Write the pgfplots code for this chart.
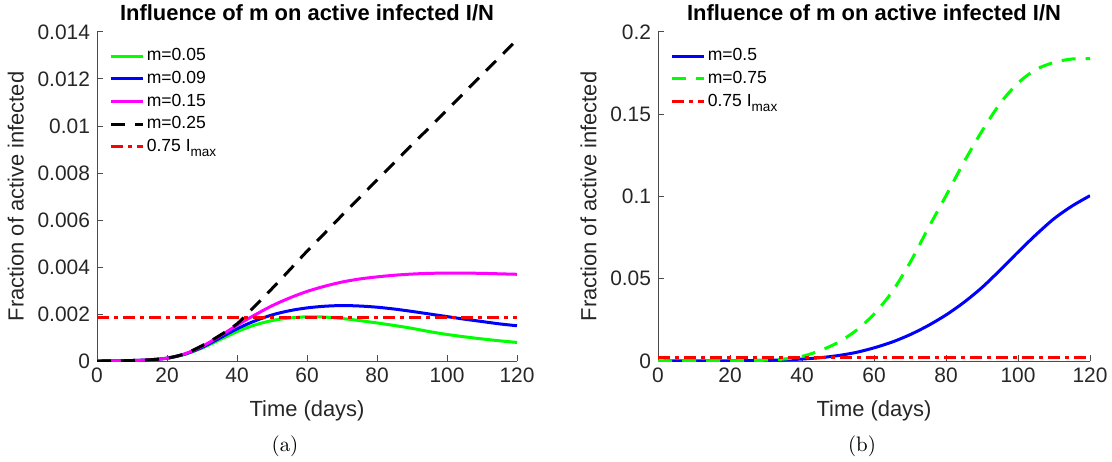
\documentclass[border=0pt]{standalone}
\usepackage{fontspec}
\newfontfamily\arial{Liberation Sans}
\usepackage{pgfplots}
\pgfplotsset{compat=1.18}
\definecolor{mgreen}{rgb}{0,1,0}
\definecolor{mblue}{rgb}{0,0,1}
\definecolor{mmag}{rgb}{1,0,1}
\definecolor{mred}{rgb}{1,0,0}
\pgfplotsset{
  mstyle/.style={
    scale only axis,
    axis x line*=bottom, axis y line*=left,
    axis line style={draw=black!70, line width=0.5bp},
    every tick/.style={draw=black!70, line width=0.5bp},
    tick align=inside,
    major tick length=3bp,
    xmin=0, xmax=120, xtick={0,20,40,60,80,100,120},
    ymin=0,
    scaled y ticks=false,
    /pgf/number format/assume math mode=true,
    tick label style={font=\arial\fontsize{10.5}{12}\selectfont, text=black!85},
    yticklabel style={/pgf/number format/fixed, /pgf/number format/precision=3},
    label style={font=\arial\fontsize{11}{13}\selectfont, text=black!85},
    xlabel style={yshift=-1.8bp},
    title style={font=\arial\bfseries\fontsize{11}{13}\selectfont, at={(0.5,1)}, anchor=center, yshift=3.8bp, inner sep=0pt},
    title={Influence of m on active infected I/N},
    xlabel={Time (days)}, ylabel={Fraction of active infected},
    legend style={draw=none, fill=none, at={(0,1)}, anchor=north west,
      xshift=6bp, yshift=-6.3bp, row sep=0pt, inner sep=0pt,
      font=\arial\fontsize{8.8}{10}\selectfont,
      nodes={inner sep=1.2bp, text height=6.8bp, text depth=2.1bp}},
    legend cell align=left,
    legend image code/.code={\draw[#1] (0bp,0bp) -- (16bp,0bp);},
    every axis plot/.append style={line width=1.5bp},
  },
  dashm/.style={dash pattern=on 7bp off 5bp},
  dashdotm/.style={dash pattern=on 6bp off 2.5bp on 2bp off 2.5bp},
}
\begin{document}
\begin{tikzpicture}[x=1bp,y=1bp]
\useasboundingbox (0,0) rectangle (556,230.5);
\begin{axis}[mstyle, at={(48.5bp,50bp)}, anchor=south west,
  width=210bp, height=164.5bp, ymax=0.014,
  ytick={0,0.002,0.004,0.006,0.008,0.01,0.012,0.014}]
\addplot[mgreen, smooth] coordinates {(0,0) (5,0.000003) (10,0.00002) (15,0.00005) (20,0.00012) (25,0.00028) (30,0.00055) (35,0.0009) (40,0.00125) (45,0.00153) (50,0.00172) (55,0.00183) (60,0.00188) (65,0.00187) (70,0.00181) (75,0.00172) (80,0.00162) (85,0.00151) (90,0.00139) (95,0.00125) (100,0.00113) (105,0.00103) (110,0.00094) (115,0.00086) (120,0.00079)};
\addlegendentry{m=0.05}
\addplot[mblue, smooth] coordinates {(0,0) (5,0.000003) (10,0.00002) (15,0.00005) (20,0.00012) (25,0.00029) (30,0.00058) (35,0.00097) (40,0.00137) (45,0.0017) (50,0.00196) (55,0.00214) (60,0.00226) (65,0.00233) (70,0.00236) (75,0.00234) (80,0.00229) (85,0.00221) (90,0.00211) (95,0.002) (100,0.00189) (105,0.00178) (110,0.00168) (115,0.00158) (120,0.0015)};
\addlegendentry{m=0.09}
\addplot[mmag, smooth] coordinates {(0,0) (5,0.000003) (10,0.00002) (15,0.00005) (20,0.00012) (25,0.0003) (30,0.00062) (35,0.00105) (40,0.00152) (45,0.00195) (50,0.00235) (55,0.00268) (60,0.00296) (65,0.00318) (70,0.00336) (75,0.00349) (80,0.00358) (85,0.00365) (90,0.0037) (95,0.00373) (100,0.00374) (105,0.00374) (110,0.00373) (115,0.00371) (120,0.00369)};
\addlegendentry{m=0.15}
\addplot[black, dashm, smooth] coordinates {(0,0) (5,0.000003) (10,0.00002) (15,0.00005) (20,0.00012) (25,0.0003) (30,0.00065) (35,0.00108) (40,0.00158) (45,0.00232) (50,0.00308) (55,0.00387) (60,0.00467) (65,0.00543) (70,0.0062) (75,0.00695) (80,0.0077) (85,0.00845) (90,0.0092) (95,0.00994) (100,0.01068) (105,0.01143) (110,0.01218) (115,0.01292) (120,0.01367)};
\addlegendentry{m=0.25}
\addplot[mred, dashdotm] coordinates {(0,0.00187) (120,0.00187)};
\addlegendentry{0.75 I\raisebox{-0.55ex}{\fontsize{6.8}{7}\selectfont max}}
\end{axis}
\begin{axis}[mstyle, at={(329bp,50bp)}, anchor=south west,
  width=216bp, height=164.5bp, ymax=0.2,
  ytick={0,0.05,0.1,0.15,0.2}]
\addplot[mblue, smooth] coordinates {(0,0) (10,0.00003) (20,0.0001) (30,0.0004) (35,0.0007) (40,0.0012) (45,0.002) (50,0.0033) (55,0.0052) (60,0.008) (65,0.0115) (70,0.016) (75,0.0215) (80,0.028) (85,0.0357) (90,0.0447) (95,0.0552) (100,0.0662) (105,0.0768) (110,0.0865) (115,0.0942) (120,0.1005)};
\addlegendentry{m=0.5}
\addplot[mgreen, dashm, smooth] coordinates {(0,0) (10,0.00003) (20,0.0001) (30,0.0005) (35,0.0012) (40,0.0028) (45,0.0063) (50,0.0113) (55,0.0185) (60,0.0285) (65,0.042) (70,0.0598) (75,0.0805) (80,0.1005) (85,0.121) (90,0.1398) (95,0.1565) (100,0.169) (105,0.1772) (110,0.1815) (115,0.1836) (120,0.1838)};
\addlegendentry{m=0.75}
\addplot[mred, dashdotm] coordinates {(0,0.0019) (120,0.0019)};
\addlegendentry{0.75 I\raisebox{-0.55ex}{\fontsize{6.8}{7}\selectfont max}}
\end{axis}
\node[font=\fontsize{10.5}{12}\selectfont] at (142.5,7.5) {(a)};
\node[font=\fontsize{10.5}{12}\selectfont] at (431,7.5) {(b)};
\end{tikzpicture}
\end{document}
